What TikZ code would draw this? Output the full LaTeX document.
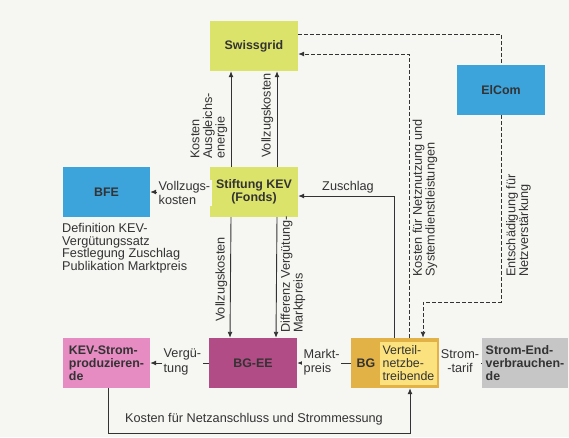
\documentclass[tikz,border=0pt]{standalone}
\usepackage{fontspec}
\setmainfont{Liberation Sans}
\usetikzlibrary{arrows.meta,calc}
\definecolor{bgc}{HTML}{F6F6F3}
\definecolor{ygreen}{HTML}{DCE36A}
\definecolor{blu}{HTML}{3DA3DB}
\definecolor{pnk}{HTML}{E68CC3}
\definecolor{mag}{HTML}{B24C86}
\definecolor{gold}{HTML}{E3B246}
\definecolor{lgold}{HTML}{FCE27E}
\definecolor{gry}{HTML}{C6C6C6}
\definecolor{ink}{HTML}{333333}
\begin{document}
\begin{tikzpicture}[x=1pt,y=-1pt,
 box/.style={minimum width=88pt,minimum height=50pt,inner sep=0pt,align=center,font=\fontsize{12.4}{13}\selectfont\bfseries,text=ink},
 lbl/.style={font=\fontsize{12.7}{12.6}\selectfont,text=ink,inner sep=1pt},
 lblf/.style={lbl,fill=bgc,font=\fontsize{12.7}{14.5}\selectfont,inner sep=1.5pt},
 conn/.style={draw=ink,line width=0.9pt},
 arr/.style={conn,-{Latex[length=6pt,width=5pt]}},
 dsh/.style={dash pattern=on 3.5pt off 2.5pt}]
\fill[bgc] (0,0) rectangle (569,437);
\useasboundingbox (0,0) rectangle (569,437);
% boxes
\node[box,fill=ygreen] (sg) at (254,46) {Swissgrid};
\node[box,fill=ygreen] (st) at (254,192) {Stiftung KEV\\(Fonds)};
\node[box,fill=blu,minimum width=87pt] (bfe) at (106.5,192) {BFE};
\node[box,fill=blu] (elcom) at (501,90) {ElCom};
\node[box,fill=pnk,minimum width=87pt,align=left] (kev) at (106.5,363) {KEV-Strom-\\produzieren-\\de};
\node[box,fill=mag] (bgee) at (253,363) {BG-EE};
\node[box,fill=gold] (bg) at (395,363) {};
\node[box,fill=lgold,minimum width=57pt,minimum height=43pt,align=left,font=\fontsize{12.4}{13}\selectfont] (vnb) at (408.5,363) {Verteil-\\netzbe-\\treibende};
\node[box,text=ink,minimum width=20pt] (bgt) at (366,363) {BG};
\node[box,fill=gry,minimum width=86pt,align=left] (se) at (525,363) {Strom-End-\\verbrauchen-\\de};
% connectors
\draw[arr] ($(st.north)+(-23,0)$) -- ($(sg.south)+(-23,0)$);
\draw[arr] ($(st.north)+(23,0)$) -- ($(sg.south)+(23,0)$);
\draw[arr] ($(st.south)+(-23,0)$) -- ($(bgee.north)+(-23,0)$);
\draw[arr] ($(st.south)+(23,0)$) -- ($(bgee.north)+(23,0)$);
\draw[arr] (st.west) -- (bfe.east);
\draw[arr] ($(bg.north)+(-1,0)$) |- ($(st.east)+(0,4)$);
\draw[conn,dsh] ($(sg.east)+(0,-12)$) -| (elcom.north);
\draw[arr,dsh] ($(bg.north)+(14,0)$) |- ($(sg.east)+(0,8)$);
\coordinate (ek) at (423,302);
\draw[arr,dsh] (elcom.south) |- (ek) -- (ek |- bg.north);
\draw[arr,dsh] (se.west) -- (bg.east);
\draw[arr] (bg.west) -- (bgee.east);
\draw[arr] (bgee.west) -- (kev.east);
\coordinate (bl) at (108,433);
\draw[arr] (kev.south -| bl) -- (bl) -| ($(bg.south)+(15,0)$);
% labels
\node[lbl,rotate=90,align=left,anchor=south west] (l1) at (228.5,160) {Kosten\\Ausgleichs-\\energie};
\node[lbl,rotate=90,align=left,anchor=south west] (l2) at (274.5,159) {Vollzugskosten};
\node[lbl,rotate=90,align=left,anchor=south west] (l3) at (228.5,323) {Vollzugskosten};
\node[lbl,rotate=90,align=left,anchor=north west] (l4) at (279.5,334) {Differenz Vergütung-\\Marktpreis};
\node[lbl,rotate=90,align=left,anchor=north west] (l5) at (411.5,278) {Kosten für Netznutzung und\\Systemdienstleistungen};
\node[lbl,rotate=90,align=left,anchor=north west] (l6) at (505,278) {Entschädigung für\\Netzverstärkung};
\node[lblf,align=left,anchor=west] (l7) at (157,193) {Vollzugs-\\kosten};
\node[lblf,align=left,anchor=west] (l8) at (162,362) {Vergü-\\tung};
\node[lblf,align=left,anchor=west] (l9) at (302,362) {Markt-\\preis};
\node[lblf,align=center] (l10) at (460,361) {Strom-\\-tarif};
\node[lbl] (l11) at (348,187) {Zuschlag};
\node[lbl] (l12) at (254,419) {Kosten für Netzanschluss und Strommessung};
\node[lbl,align=left,anchor=north west] (l13) at (61,222) {Definition KEV-\\Vergütungssatz\\Festlegung Zuschlag\\Publikation Marktpreis};
\end{tikzpicture}
\end{document}
